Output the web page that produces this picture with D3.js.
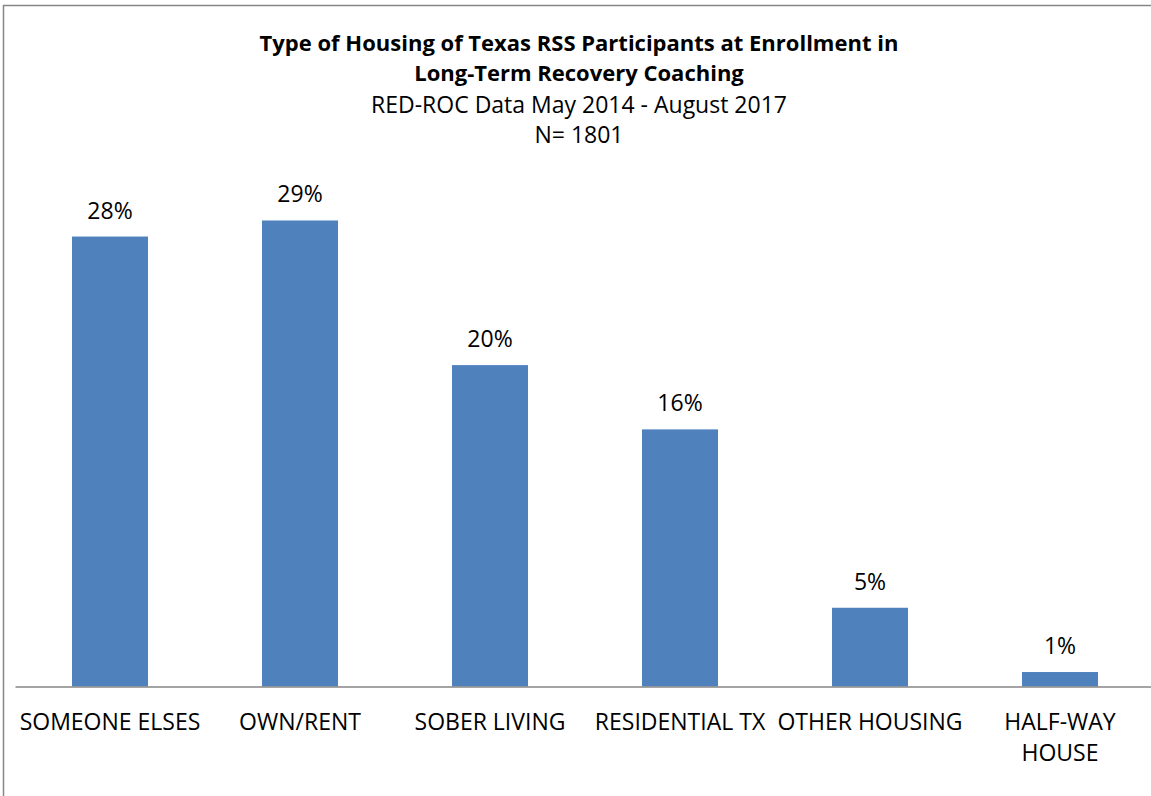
<!DOCTYPE html>
<html>
<head>
<meta charset="utf-8">
<script src="https://cdn.jsdelivr.net/npm/d3@7"></script>
<style>
  body { margin: 0; background: #fff; }
  text { font-family: "Open Sans", sans-serif; fill: #000; }
</style>
</head>
<body>
<div id="dataviz"></div>
<script>
// chart data
var categories = ["SOMEONE ELSES", "OWN/RENT", "SOBER LIVING", "RESIDENTIAL TX", "OTHER HOUSING", "HALF-WAY HOUSE"];
var percents = [28.0, 29.0, 20.0, 16.0, 4.9, 0.9];
var titleLines = ["Type of Housing of Texas RSS Participants at Enrollment in", "Long-Term Recovery Coaching"];
var subtitleLines = ["RED-ROC Data May 2014 - August 2017", "N= 1801"];

var width = 1151;
var height = 796;

var svg = d3.select("#dataviz")
  .append("svg")
    .attr("width", width)
    .attr("height", height);

// outer frame of the chart
svg.append("rect")
  .attr("x", 3.5)
  .attr("y", 5.5)
  .attr("width", 1160)
  .attr("height", 800)
  .attr("fill", "none")
  .attr("stroke", "#868686")
  .attr("stroke-width", 1.5);

// scales
var x = d3.scaleBand()
  .domain(categories)
  .range([15, 1155])
  .paddingInner(0.6)
  .paddingOuter(0.3);

var baseY = 686.5;
var y = d3.scaleLinear()
  .domain([0, 35])
  .range([baseY, baseY - 35 * 16.07]);

// bars
svg.selectAll(".bar")
  .data(percents)
  .enter()
  .append("rect")
    .classed("bar", true)
    .attr("x", function(d, i){ return x(categories[i]); })
    .attr("y", function(d){ return y(d); })
    .attr("width", x.bandwidth())
    .attr("height", function(d){ return baseY - y(d); })
    .attr("fill", "#4F81BD");

// percent labels over bars
svg.selectAll(".percents")
  .data(percents)
  .enter()
  .append("text")
    .classed("percents", true)
    .attr("x", function(d, i){ return x(categories[i]) + x.bandwidth()/2; })
    .attr("y", function(d){ return y(d) - 18; })
    .attr("text-anchor", "middle")
    .style("font-size", "23px")
    .text(function(d){ return Math.round(d) + "%"; });

// x axis
var xAxis = svg.append("g")
  .attr("transform", "translate(0," + baseY + ")")
  .call(d3.axisBottom(x).tickSize(0).tickSizeOuter(0).tickPadding(0));

xAxis.select(".domain")
  .attr("stroke", "#868686")
  .attr("stroke-width", 1.5);

xAxis.selectAll(".tick text")
  .attr("font-family", null)
  .attr("dy", null)
  .attr("y", 43.5)
  .style("font-size", "23px")
  .call(wrap, x.step());

// wrap long labels onto a second line
function wrap(texts, maxWidth){
  texts.each(function(){
    var text = d3.select(this);
    var words = text.text().split(/\s+/);
    var line = [];
    var lineNo = 0;
    var yPos = text.attr("y");
    var tspan = text.text(null).append("tspan").attr("x", 0).attr("y", yPos);
    words.forEach(function(word){
      line.push(word);
      tspan.text(line.join(" "));
      if (tspan.node().getComputedTextLength() > maxWidth && line.length > 1) {
        line.pop();
        tspan.text(line.join(" "));
        line = [word];
        lineNo += 1;
        tspan = text.append("tspan")
          .attr("x", 0)
          .attr("y", +yPos + lineNo * 31)
          .text(word);
      }
    });
  });
}

// titles
svg.selectAll(".title")
  .data(titleLines)
  .enter()
  .append("text")
    .classed("title", true)
    .attr("x", 579)
    .attr("y", function(d, i){ return 51 + i * 30; })
    .attr("text-anchor", "middle")
    .style("font-size", "22px")
    .style("font-weight", "bold")
    .text(function(d){ return d; });

svg.selectAll(".subtitle")
  .data(subtitleLines)
  .enter()
  .append("text")
    .classed("subtitle", true)
    .attr("x", 579)
    .attr("y", function(d, i){ return 113 + i * 30; })
    .attr("text-anchor", "middle")
    .style("font-size", "23px")
    .text(function(d){ return d; });
</script>
</body>
</html>
